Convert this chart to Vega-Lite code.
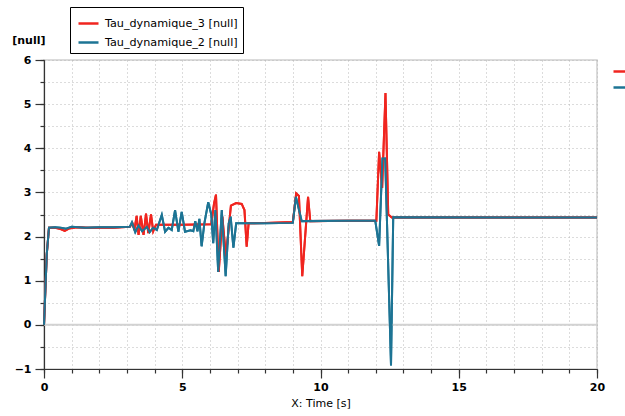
{
  "$schema": "https://vega.github.io/schema/vega-lite/v6.json",
  "width": 553,
  "height": 309,
  "autosize": {"type": "none"},
  "padding": {"left": 44, "top": 60, "right": 28, "bottom": 47},
  "background": "white",
  "config": {
    "view": {"stroke": "#d0d0d0", "strokeWidth": 1.5},
    "font": "DejaVu Sans",
    "axis": {"labelFont": "DejaVu Sans", "titleFont": "DejaVu Sans", "labelColor": "#000", "titleColor": "#000", "domainColor": "#333", "tickColor": "#333", "domainWidth": 1.2, "tickWidth": 1.2, "labelFlush": false, "labelOverlap": false}
  },
  "datasets": {
    "series": [
      {"t": 0, "v": 0, "s": "Tau_dynamique_3 [null]"},
      {"t": 0.1, "v": 1.6, "s": "Tau_dynamique_3 [null]"},
      {"t": 0.18, "v": 2.2, "s": "Tau_dynamique_3 [null]"},
      {"t": 0.4, "v": 2.2, "s": "Tau_dynamique_3 [null]"},
      {"t": 0.6, "v": 2.17, "s": "Tau_dynamique_3 [null]"},
      {"t": 0.75, "v": 2.13, "s": "Tau_dynamique_3 [null]"},
      {"t": 0.9, "v": 2.18, "s": "Tau_dynamique_3 [null]"},
      {"t": 1.2, "v": 2.21, "s": "Tau_dynamique_3 [null]"},
      {"t": 1.6, "v": 2.2, "s": "Tau_dynamique_3 [null]"},
      {"t": 2.0, "v": 2.2, "s": "Tau_dynamique_3 [null]"},
      {"t": 2.5, "v": 2.2, "s": "Tau_dynamique_3 [null]"},
      {"t": 3.1, "v": 2.22, "s": "Tau_dynamique_3 [null]"},
      {"t": 3.2, "v": 2.3, "s": "Tau_dynamique_3 [null]"},
      {"t": 3.27, "v": 2.15, "s": "Tau_dynamique_3 [null]"},
      {"t": 3.35, "v": 2.47, "s": "Tau_dynamique_3 [null]"},
      {"t": 3.42, "v": 2.04, "s": "Tau_dynamique_3 [null]"},
      {"t": 3.5, "v": 2.47, "s": "Tau_dynamique_3 [null]"},
      {"t": 3.6, "v": 2.04, "s": "Tau_dynamique_3 [null]"},
      {"t": 3.69, "v": 2.52, "s": "Tau_dynamique_3 [null]"},
      {"t": 3.77, "v": 2.08, "s": "Tau_dynamique_3 [null]"},
      {"t": 3.87, "v": 2.5, "s": "Tau_dynamique_3 [null]"},
      {"t": 3.95, "v": 2.12, "s": "Tau_dynamique_3 [null]"},
      {"t": 4.05, "v": 2.27, "s": "Tau_dynamique_3 [null]"},
      {"t": 5.0, "v": 2.27, "s": "Tau_dynamique_3 [null]"},
      {"t": 6.05, "v": 2.28, "s": "Tau_dynamique_3 [null]"},
      {"t": 6.15, "v": 2.75, "s": "Tau_dynamique_3 [null]"},
      {"t": 6.22, "v": 2.95, "s": "Tau_dynamique_3 [null]"},
      {"t": 6.32, "v": 1.2, "s": "Tau_dynamique_3 [null]"},
      {"t": 6.45, "v": 2.45, "s": "Tau_dynamique_3 [null]"},
      {"t": 6.58, "v": 1.55, "s": "Tau_dynamique_3 [null]"},
      {"t": 6.76, "v": 2.7, "s": "Tau_dynamique_3 [null]"},
      {"t": 6.95, "v": 2.76, "s": "Tau_dynamique_3 [null]"},
      {"t": 7.15, "v": 2.74, "s": "Tau_dynamique_3 [null]"},
      {"t": 7.25, "v": 2.6, "s": "Tau_dynamique_3 [null]"},
      {"t": 7.33, "v": 1.77, "s": "Tau_dynamique_3 [null]"},
      {"t": 7.4, "v": 2.3, "s": "Tau_dynamique_3 [null]"},
      {"t": 8.0, "v": 2.31, "s": "Tau_dynamique_3 [null]"},
      {"t": 9.0, "v": 2.33, "s": "Tau_dynamique_3 [null]"},
      {"t": 9.12, "v": 2.98, "s": "Tau_dynamique_3 [null]"},
      {"t": 9.22, "v": 2.92, "s": "Tau_dynamique_3 [null]"},
      {"t": 9.34, "v": 1.1, "s": "Tau_dynamique_3 [null]"},
      {"t": 9.55, "v": 2.9, "s": "Tau_dynamique_3 [null]"},
      {"t": 9.63, "v": 2.35, "s": "Tau_dynamique_3 [null]"},
      {"t": 11.0, "v": 2.36, "s": "Tau_dynamique_3 [null]"},
      {"t": 12.02, "v": 2.36, "s": "Tau_dynamique_3 [null]"},
      {"t": 12.12, "v": 3.92, "s": "Tau_dynamique_3 [null]"},
      {"t": 12.23, "v": 3.1, "s": "Tau_dynamique_3 [null]"},
      {"t": 12.35, "v": 5.25, "s": "Tau_dynamique_3 [null]"},
      {"t": 12.45, "v": 2.5, "s": "Tau_dynamique_3 [null]"},
      {"t": 12.58, "v": 2.43, "s": "Tau_dynamique_3 [null]"},
      {"t": 20, "v": 2.43, "s": "Tau_dynamique_3 [null]"},
      {"t": 0, "v": 0, "s": "Tau_dynamique_2 [null]"},
      {"t": 0.1, "v": 1.6, "s": "Tau_dynamique_2 [null]"},
      {"t": 0.18, "v": 2.2, "s": "Tau_dynamique_2 [null]"},
      {"t": 0.4, "v": 2.21, "s": "Tau_dynamique_2 [null]"},
      {"t": 0.6, "v": 2.2, "s": "Tau_dynamique_2 [null]"},
      {"t": 0.8, "v": 2.18, "s": "Tau_dynamique_2 [null]"},
      {"t": 1.0, "v": 2.22, "s": "Tau_dynamique_2 [null]"},
      {"t": 1.5, "v": 2.2, "s": "Tau_dynamique_2 [null]"},
      {"t": 2.0, "v": 2.21, "s": "Tau_dynamique_2 [null]"},
      {"t": 2.5, "v": 2.21, "s": "Tau_dynamique_2 [null]"},
      {"t": 3.1, "v": 2.22, "s": "Tau_dynamique_2 [null]"},
      {"t": 3.18, "v": 2.32, "s": "Tau_dynamique_2 [null]"},
      {"t": 3.3, "v": 2.1, "s": "Tau_dynamique_2 [null]"},
      {"t": 3.42, "v": 2.25, "s": "Tau_dynamique_2 [null]"},
      {"t": 3.55, "v": 2.12, "s": "Tau_dynamique_2 [null]"},
      {"t": 3.72, "v": 2.22, "s": "Tau_dynamique_2 [null]"},
      {"t": 3.82, "v": 2.1, "s": "Tau_dynamique_2 [null]"},
      {"t": 3.95, "v": 2.2, "s": "Tau_dynamique_2 [null]"},
      {"t": 4.08, "v": 2.15, "s": "Tau_dynamique_2 [null]"},
      {"t": 4.26, "v": 2.49, "s": "Tau_dynamique_2 [null]"},
      {"t": 4.38, "v": 2.11, "s": "Tau_dynamique_2 [null]"},
      {"t": 4.5, "v": 2.2, "s": "Tau_dynamique_2 [null]"},
      {"t": 4.62, "v": 2.15, "s": "Tau_dynamique_2 [null]"},
      {"t": 4.74, "v": 2.6, "s": "Tau_dynamique_2 [null]"},
      {"t": 4.86, "v": 2.11, "s": "Tau_dynamique_2 [null]"},
      {"t": 4.98, "v": 2.56, "s": "Tau_dynamique_2 [null]"},
      {"t": 5.1, "v": 2.11, "s": "Tau_dynamique_2 [null]"},
      {"t": 5.3, "v": 2.14, "s": "Tau_dynamique_2 [null]"},
      {"t": 5.4, "v": 2.12, "s": "Tau_dynamique_2 [null]"},
      {"t": 5.47, "v": 2.35, "s": "Tau_dynamique_2 [null]"},
      {"t": 5.55, "v": 2.12, "s": "Tau_dynamique_2 [null]"},
      {"t": 5.62, "v": 2.4, "s": "Tau_dynamique_2 [null]"},
      {"t": 5.7, "v": 1.78, "s": "Tau_dynamique_2 [null]"},
      {"t": 5.8, "v": 2.3, "s": "Tau_dynamique_2 [null]"},
      {"t": 5.94, "v": 2.78, "s": "Tau_dynamique_2 [null]"},
      {"t": 6.05, "v": 2.5, "s": "Tau_dynamique_2 [null]"},
      {"t": 6.12, "v": 1.85, "s": "Tau_dynamique_2 [null]"},
      {"t": 6.2, "v": 2.6, "s": "Tau_dynamique_2 [null]"},
      {"t": 6.3, "v": 1.2, "s": "Tau_dynamique_2 [null]"},
      {"t": 6.43, "v": 2.6, "s": "Tau_dynamique_2 [null]"},
      {"t": 6.57, "v": 1.1, "s": "Tau_dynamique_2 [null]"},
      {"t": 6.68, "v": 2.3, "s": "Tau_dynamique_2 [null]"},
      {"t": 6.75, "v": 2.45, "s": "Tau_dynamique_2 [null]"},
      {"t": 6.85, "v": 1.75, "s": "Tau_dynamique_2 [null]"},
      {"t": 6.95, "v": 2.3, "s": "Tau_dynamique_2 [null]"},
      {"t": 8.0, "v": 2.3, "s": "Tau_dynamique_2 [null]"},
      {"t": 9.0, "v": 2.31, "s": "Tau_dynamique_2 [null]"},
      {"t": 9.11, "v": 2.9, "s": "Tau_dynamique_2 [null]"},
      {"t": 9.32, "v": 2.35, "s": "Tau_dynamique_2 [null]"},
      {"t": 11.0, "v": 2.36, "s": "Tau_dynamique_2 [null]"},
      {"t": 11.98, "v": 2.36, "s": "Tau_dynamique_2 [null]"},
      {"t": 12.12, "v": 1.79, "s": "Tau_dynamique_2 [null]"},
      {"t": 12.24, "v": 3.77, "s": "Tau_dynamique_2 [null]"},
      {"t": 12.34, "v": 3.77, "s": "Tau_dynamique_2 [null]"},
      {"t": 12.55, "v": -0.92, "s": "Tau_dynamique_2 [null]"},
      {"t": 12.63, "v": 2.44, "s": "Tau_dynamique_2 [null]"},
      {"t": 20, "v": 2.43, "s": "Tau_dynamique_2 [null]"}
    ]
  },
  "layer": [
    {
      "data": {"name": "series"},
      "mark": {"type": "line", "strokeWidth": 2},
      "encoding": {
        "x": {"field": "t", "type": "quantitative", "scale": {"domain": [0, 20], "nice": false, "zero": false},
          "axis": {"orient": "bottom", "values": [0,1,2,3,4,5,6,7,8,9,10,11,12,13,14,15,16,17,18,19,20], "labels": false, "tickSize": 4, "grid": true, "gridDash": [1, 3], "gridColor": "#b8b8b8", "gridWidth": 1, "domain": false, "title": null}},
        "y": {"field": "v", "type": "quantitative", "scale": {"domain": [-1, 6], "nice": false, "zero": false},
          "axis": {"orient": "left", "values": [-1,-0.5,0,0.5,1,1.5,2,2.5,3,3.5,4,4.5,5,5.5,6], "labels": false, "tickSize": 4, "grid": true, "gridDash": [1, 3], "gridColor": "#b8b8b8", "gridWidth": 1, "domain": false, "title": null}},
        "color": {"field": "s", "type": "nominal",
          "scale": {"domain": ["Tau_dynamique_3 [null]", "Tau_dynamique_2 [null]"], "range": ["#f0251f", "#1d7494"]},
          "legend": {"orient": "none", "legendX": 568, "legendY": 3, "title": null, "padding": 0, "symbolType": "stroke", "symbolSize": 196, "symbolStrokeWidth": 2.5, "rowPadding": 2, "labelFontSize": 11, "labelExpr": "''"}}
      }
    },
    {
      "data": {"values": [{}]},
      "mark": {"type": "rule", "color": "#d2d2d2", "strokeWidth": 2},
      "encoding": {"y": {"datum": 0, "type": "quantitative", "axis": null}}
    },
    {
      "data": {"name": "series"},
      "mark": {"type": "line", "strokeWidth": 2},
      "encoding": {
        "x": {"field": "t", "type": "quantitative",
          "axis": {"orient": "bottom", "values": [0, 5, 10, 15, 20], "tickSize": 9, "grid": false, "labelFontWeight": "bold", "labelFontSize": 11, "labelPadding": 3, "title": "X: Time [s]", "titleFontWeight": "normal", "titleFontSize": 11, "titlePadding": 5}},
        "y": {"field": "v", "type": "quantitative",
          "axis": {"orient": "left", "values": [-1, 0, 1, 2, 3, 4, 5, 6], "tickSize": 9, "grid": false, "labelFontWeight": "bold", "labelFontSize": 11, "labelPadding": 4, "title": "[null]", "titleAngle": 0, "titleX": 1, "titleY": -20, "titleAlign": "right", "titleBaseline": "middle", "titleFontWeight": "bold", "titleFontSize": 11}},
        "color": {"field": "s", "type": "nominal",
          "scale": {"domain": ["Tau_dynamique_3 [null]", "Tau_dynamique_2 [null]"], "range": ["#f0251f", "#1d7494"]},
          "legend": {"orient": "none", "legendX": 26, "legendY": -53, "title": null, "strokeColor": "#000", "fillColor": "#fff", "padding": 5, "symbolType": "stroke", "symbolSize": 400, "symbolStrokeWidth": 2.5, "symbolOffset": 2, "rowPadding": 2, "labelFont": "DejaVu Sans", "labelFontSize": 11.2, "labelColor": "#000", "labelOffset": 5, "labelLimit": 300}}
      }
    }
  ],
  "resolve": {"scale": {"color": "independent"}, "legend": {"color": "independent"}, "axis": {"x": "independent", "y": "independent"}}
}
